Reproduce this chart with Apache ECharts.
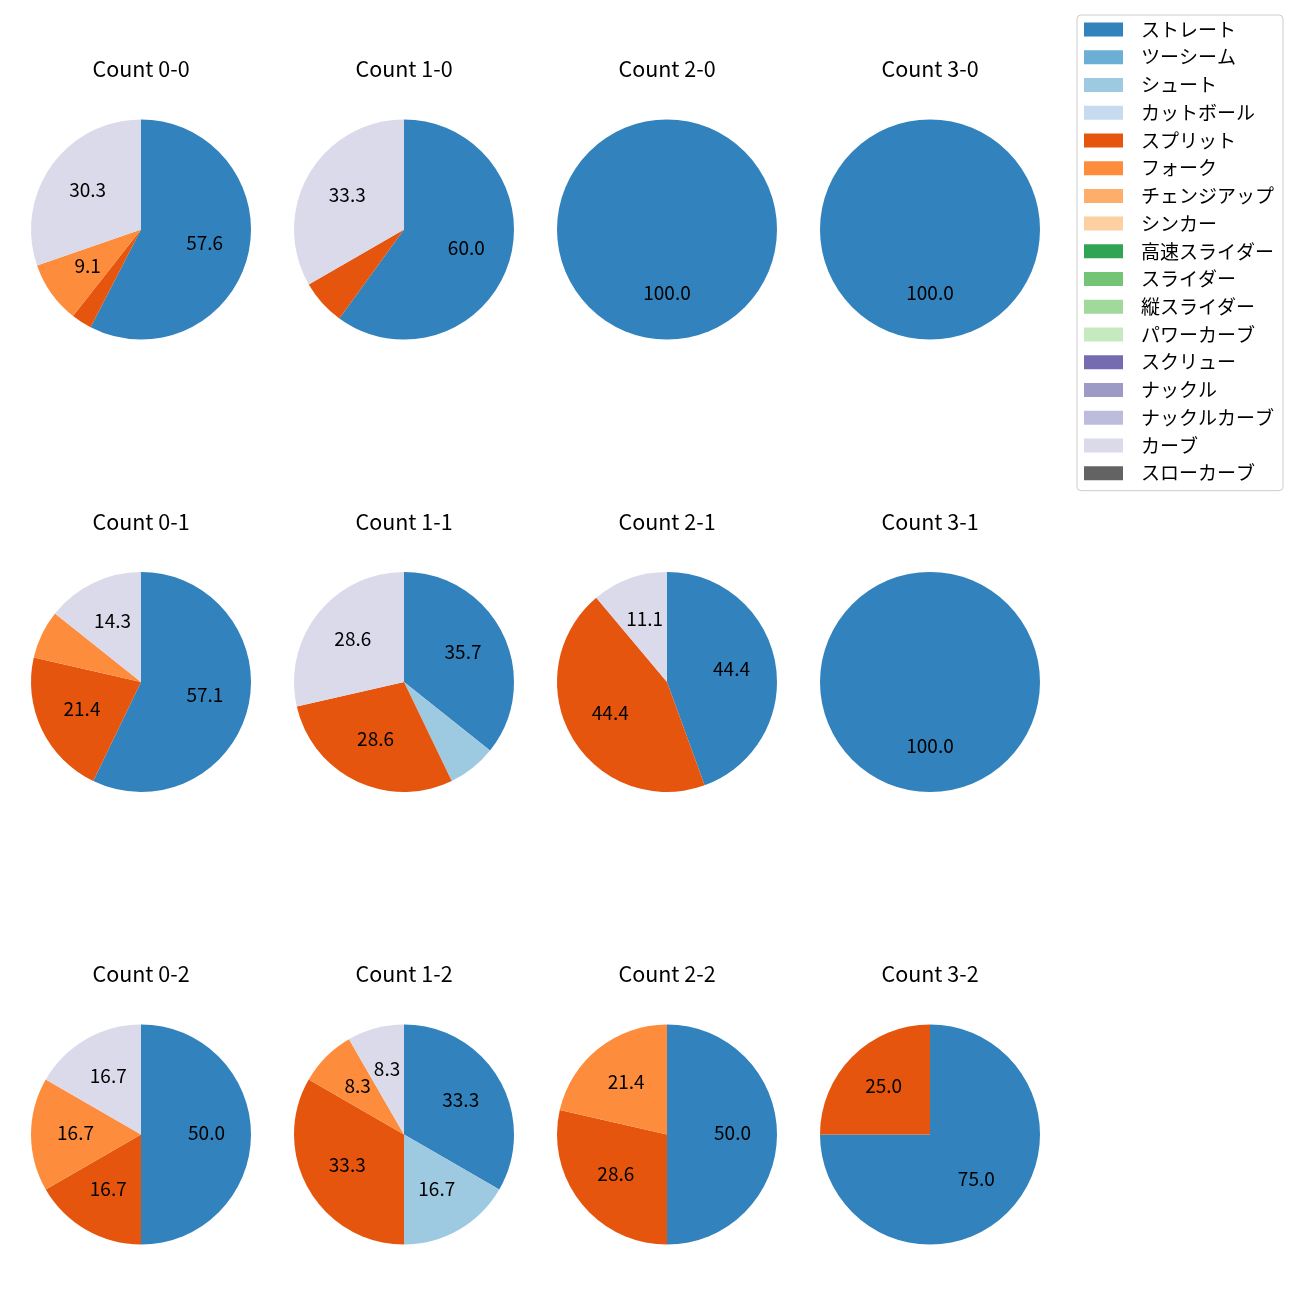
<!DOCTYPE html>
<html>
<head>
<meta charset="utf-8">
<script src="https://cdn.jsdelivr.net/npm/echarts@6/dist/echarts.min.js"></script>
<style>
html,body{margin:0;padding:0;background:#fff;}
#chart{width:1300px;height:1300px;}
</style>
</head>
<body>
<div id="chart"></div>
<script>
const pitchTypes = ['ストレート','ツーシーム','シュート','カットボール','スプリット','フォーク','チェンジアップ','シンカー','高速スライダー','スライダー','縦スライダー','パワーカーブ','スクリュー','ナックル','ナックルカーブ','カーブ','スローカーブ'];
const pitchColors = ['#3182bd','#6baed6','#9ecae1','#c6dbef','#e6550d','#fd8d3c','#fdae6b','#fdd0a2','#31a354','#74c476','#a1d99b','#c7e9c0','#756bb1','#9e9ac8','#bcbddc','#dadaeb','#636363'];

// pitch counts per ball-strike count, in pitchTypes order
const count00 = [19,0,0,0,1,3,0,0,0,0,0,0,0,0,0,10,0];
const count10 = [9,0,0,0,1,0,0,0,0,0,0,0,0,0,0,5,0];
const count20 = [1,0,0,0,0,0,0,0,0,0,0,0,0,0,0,0,0];
const count30 = [1,0,0,0,0,0,0,0,0,0,0,0,0,0,0,0,0];
const count01 = [8,0,0,0,3,1,0,0,0,0,0,0,0,0,0,2,0];
const count11 = [5,0,1,0,4,0,0,0,0,0,0,0,0,0,0,4,0];
const count21 = [4,0,0,0,4,0,0,0,0,0,0,0,0,0,0,1,0];
const count31 = [1,0,0,0,0,0,0,0,0,0,0,0,0,0,0,0,0];
const count02 = [3,0,0,0,1,1,0,0,0,0,0,0,0,0,0,1,0];
const count12 = [4,0,2,0,4,1,0,0,0,0,0,0,0,0,0,1,0];
const count22 = [7,0,0,0,4,3,0,0,0,0,0,0,0,0,0,0,0];
const count32 = [3,0,0,0,1,0,0,0,0,0,0,0,0,0,0,0,0];

const countNames = ['0-0','1-0','2-0','3-0','0-1','1-1','2-1','3-1','0-2','1-2','2-2','3-2'];
const countValues = [count00,count10,count20,count30,count01,count11,count21,count31,count02,count12,count22,count32];

const colX = [141, 404, 667, 930];
const rowY = [229.5, 682, 1134.5];
const R = 110;
const FONT = '"Noto Sans CJK JP", "Noto Sans", sans-serif';
const TITLE_FS = 21.5;

const titles = [];
const series = [];

// dummy series so the legend lists every pitch type with its colour
series.push({
  type: 'pie', radius: 0, center: [-500, -500], silent: true,
  label: {show: false}, labelLine: {show: false},
  data: pitchTypes.map((n, i) => ({name: n, value: 0, itemStyle: {color: pitchColors[i]}}))
});

countNames.forEach((cn, k) => {
  const cx = colX[k % 4], cy = rowY[Math.floor(k / 4)];
  const vals = countValues[k];
  const total = vals.reduce((a, b) => a + b, 0);
  titles.push({
    text: 'Count ' + cn, left: cx, top: cy - R - 50.5 - TITLE_FS / 2, textAlign: 'center', padding: 0,
    textStyle: {fontFamily: FONT, fontSize: TITLE_FS, fontWeight: 'normal', color: '#000'}
  });
  const data = [];
  pitchTypes.forEach((n, i) => {
    if (vals[i] > 0) data.push({name: n, value: vals[i], itemStyle: {color: pitchColors[i]}});
  });
  series.push({
    type: 'pie', center: [cx, cy], radius: [0, R], startAngle: 90, clockwise: true,
    silent: true, avoidLabelOverlap: false,
    itemStyle: {borderWidth: 0},
    label: {show: false}, labelLine: {show: false},
    emphasis: {disabled: true},
    data: data
  });
  series.push({
    type: 'pie', center: [cx, cy], radius: [15, R], startAngle: 90, clockwise: true,
    silent: true, avoidLabelOverlap: false,
    itemStyle: {color: 'rgba(0,0,0,0)', borderWidth: 0},
    labelLine: {show: false},
    emphasis: {disabled: true},
    label: {
      show: true, position: 'inside', color: '#000', fontFamily: FONT, fontSize: 19,
      offset: [0, -2],
      formatter: p => {
        const pct = p.value / total * 100;
        return pct >= 8 ? pct.toFixed(1) : '';
      }
    },
    data: data.map(d => ({name: d.name, value: d.value}))
  });
});

const chart = echarts.init(document.getElementById('chart'), null, {renderer: 'canvas'});
chart.setOption({
  animation: false,
  backgroundColor: '#fff',
  title: titles,
  legend: {
    orient: 'vertical', left: 1077, top: 15,
    data: pitchTypes,
    itemWidth: 39, itemHeight: 14, itemGap: 8.73,
    icon: 'rect',
    padding: [5, 9, 8, 7],
    borderColor: '#cccccc', borderWidth: 1, borderRadius: 4,
    backgroundColor: '#fff',
    selectedMode: false,
    textStyle: {fontFamily: FONT, fontSize: 19, color: '#000', padding: [0, 0, 0, 13]}
  },
  series: series
});
</script>
</body>
</html>
